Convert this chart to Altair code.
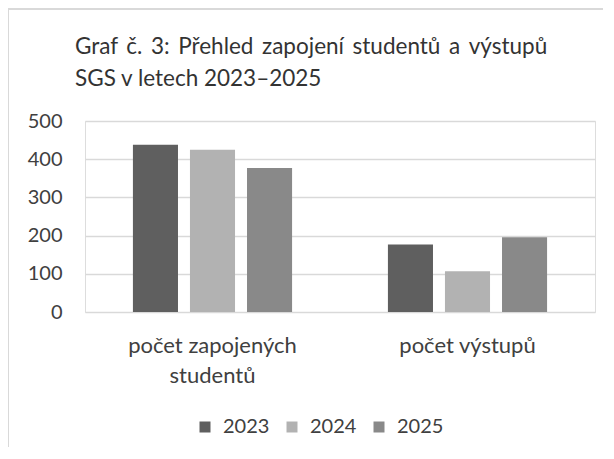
import altair as alt
import pandas as pd

categories = ["počet zapojených studentů", "počet výstupů"]
years = ["2023", "2024", "2025"]
values_2023 = [438, 177]
values_2024 = [425, 107]
values_2025 = [377, 196]
colors = ["#5f5f5f", "#b2b2b2", "#898989"]
y_ticks = [0, 100, 200, 300, 400, 500]
title_lines = ["Graf č. 3: Přehled zapojení studentů a výstupů", "SGS v letech 2023–2025"]

rows = []
for yr, vals in zip(years, [values_2023, values_2024, values_2025]):
    for c, v in zip(categories, vals):
        rows.append({"kategorie": c, "rok": yr, "hodnota": v})
df = pd.DataFrame(rows)

FONT = "Lato"
TXT = "#404040"

# first title line is justified in the reference: widen its word gaps
title_text = [title_lines[0].replace(" ", " \u2009"), title_lines[1]]

bars = alt.Chart(df).mark_bar().encode(
    x=alt.X("kategorie:N", sort=categories, title=None,
            scale=alt.Scale(paddingInner=0, paddingOuter=0),
            axis=alt.Axis(labelAngle=0, ticks=False, tickSize=0, domain=False,
                          labelPadding=23, labelFontSize=22, labelFont=FONT,
                          labelColor=TXT, labelLineHeight=30,
                          labelExpr="datum.label == 'počet zapojených studentů' ? ['počet zapojených', 'studentů'] : datum.label")),
    xOffset=alt.XOffset("rok:N", sort=years,
                        scale=alt.Scale(paddingInner=0.21, paddingOuter=0.84)),
    y=alt.Y("hodnota:Q", title=None,
            scale=alt.Scale(domain=[0, 500], nice=False),
            axis=alt.Axis(values=y_ticks, ticks=False, tickSize=0, domain=False,
                          grid=True, gridColor="#d9d9d9", gridWidth=1.5,
                          labelPadding=23, labelFontSize=20, labelFont=FONT,
                          labelColor=TXT)),
    color=alt.Color("rok:N", sort=years,
                    scale=alt.Scale(domain=years, range=colors),
                    legend=alt.Legend(title=None, orient="none", direction="horizontal",
                                      legendX=110, legendY=296,
                                      symbolType="square", symbolSize=121,
                                      symbolStrokeWidth=0, labelFontSize=20,
                                      labelFont=FONT, labelColor=TXT,
                                      labelOffset=8, columnPadding=12)),
)

frame_df = pd.DataFrame({"a": [0]})
top_line = alt.Chart(frame_df).mark_rule(color="#d9d9d9", strokeWidth=2).encode(
    x=alt.value(-77), x2=alt.value(540), y=alt.value(-112))
left_line = alt.Chart(frame_df).mark_rule(color="#d9d9d9", strokeWidth=2).encode(
    x=alt.value(-77), y=alt.value(-113), y2=alt.value(340))

chart = alt.layer(bars, top_line, left_line).properties(
    width=510, height=191,
    title=alt.TitleParams(text=title_text, anchor="start", frame="group",
                          dx=-10, dy=109, offset=26, fontSize=22.5, font=FONT,
                          fontWeight="normal", color="#333333", lineHeight=32),
    autosize=alt.AutoSizeParams(type="none"),
    padding={"left": 77, "top": 113, "right": 8, "bottom": 135},
).configure_view(stroke=None).configure(background="white")

chart.save("out.html", embed_options={"renderer": "svg", "actions": False})
